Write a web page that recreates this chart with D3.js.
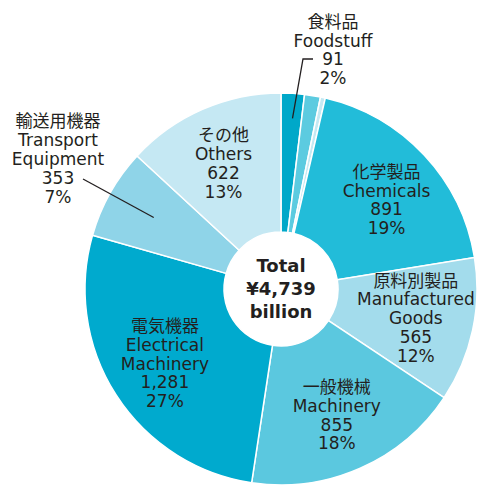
<!DOCTYPE html>
<html>
<head>
<meta charset="utf-8">
<script src="https://cdn.jsdelivr.net/npm/d3@7"></script>
<style>
  body { margin:0; background:#fff; }
  svg text { font-family:"DejaVu Sans","Noto Sans CJK JP",sans-serif; fill:#231f20; }
  .lbl { font-size:17px; }
  .total { font-size:18px; font-weight:bold; }
</style>
</head>
<body>
<svg></svg>
<script>
// export breakdown, billion yen (clockwise from 12 o'clock)
var jpNames = ["食料品","原料品","鉱物性燃料","化学製品","原料別製品","一般機械","電気機器","輸送用機器","その他"];
var enNames = [["Foodstuff"],[],[],["Chemicals"],["Manufactured","Goods"],["Machinery"],["Electrical","Machinery"],["Transport","Equipment"],["Others"]];
var values = [91,62,19,891,565,855,1281,353,622];
var showLabel = [true,false,false,true,true,true,true,true,true];
var colors = ["#00a8c9","#5ccbe0","#c4e9f3","#22bcd9","#a3dcec","#5bc8df","#00aace","#8fd4e8","#c5e8f3"];
var totalText = ["Total","¥4,739","billion"];

var screen = {width:480,height:485}
var center = {x:281,y:289}
var outerR = 196, innerR = 57;
var lineH = 18.8;
// small angle nudges (degrees) for inner labels
var labelNudge = [0,0,0,3,0,0,0,0,-1];

var svg = d3.select("svg")
    .attr("width",screen.width)
    .attr("height",screen.height)

var total = d3.sum(values);

var pie = d3.pie().sort(null).value(function(d){ return d; });
var arcs = pie(values);

var arc = d3.arc().innerRadius(innerR).outerRadius(outerR);
var labelR = 138;

var g = svg.append("g")
    .attr("transform","translate("+center.x+","+center.y+")");

g.selectAll("path")
    .data(arcs)
    .enter()
    .append("path")
    .attr("d",arc)
    .attr("fill",function(d,i){ return colors[i]; })
    .attr("stroke","#fff")
    .attr("stroke-width",1.5)

var labelLines = function(i)
{
    var pct = Math.round(values[i]/total*100);
    return [jpNames[i]].concat(enNames[i])
        .concat([d3.format(",")(values[i]), pct+"%"]);
}

var drawBlock = function(lines,x,y)
{
    var t = g.append("text")
        .classed("lbl",true)
        .attr("text-anchor","middle")
    var top = y - (lines.length-1)*lineH/2;
    lines.forEach(function(s,k)
    {
        t.append("tspan")
            .attr("x",x)
            .attr("y",top+k*lineH)
            .attr("dy","0.35em")
            .text(s);
    })
}

// labels inside the ring
arcs.forEach(function(a,i)
{
    if(!showLabel[i] || i==0 || i==7) return;
    var ang = (a.startAngle+a.endAngle)/2 + labelNudge[i]*Math.PI/180;
    drawBlock(labelLines(i),labelR*Math.sin(ang),-labelR*Math.cos(ang));
})

// outside labels with leader lines
var foodA = arcs[0];
var fp = d3.arc().innerRadius(outerR-22).outerRadius(outerR-22).centroid(foodA);
var leader = g.append("g").attr("stroke","#231f20").attr("stroke-width",1.3).attr("fill","none");
leader.append("polyline")
    .attr("points",[[fp[0]+1,fp[1]+3],[22,-230],[32,-230]].join(" "))
drawBlock(labelLines(0),52,-239);

var trA = arcs[7];
var tp = d3.arc().innerRadius(outerR-50).outerRadius(outerR-50).centroid(trA);
leader.append("line")
    .attr("x1",tp[0]).attr("y1",tp[1])
    .attr("x2",-198).attr("y2",-110)
drawBlock(labelLines(7),-223,-130);

// centre total
var ct = g.append("text")
    .classed("total",true)
    .attr("text-anchor","middle")
totalText.forEach(function(s,k)
{
    ct.append("tspan")
        .attr("x",0)
        .attr("y",(k-1)*23)
        .attr("dy","0.35em")
        .text(s);
})
</script>
</body>
</html>
